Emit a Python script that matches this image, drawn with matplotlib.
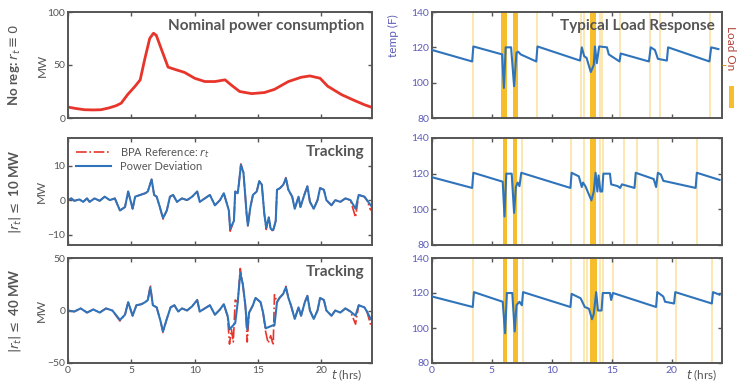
import matplotlib.pyplot as plt
from matplotlib.patches import Rectangle

# nominal power consumption (hrs, MW)
nominal_t = [0, 0.6, 1.3, 2.0, 2.6, 3.2, 3.8, 4.2, 4.7, 5.3, 5.7, 6.05, 6.45, 6.75, 6.97,
             7.4, 7.9, 8.4, 9.2, 10.0, 10.8, 11.6, 12.4, 12.9, 13.55, 14.5, 15.5, 16.3,
             17.4, 18.4, 19.1, 19.9, 20.5, 21.6, 22.6, 23.4, 24.0]
nominal_mw = [10.3, 9.0, 7.8, 7.6, 7.8, 9.4, 11.6, 14, 22, 30, 36, 55, 75, 80, 78,
              64, 48, 46, 43, 37.5, 34.4, 34.4, 36, 31, 25, 23, 24, 27,
              34.4, 38.4, 39.7, 37.5, 30, 22, 16.6, 12.5, 10.0]

# tracking, |r_t| <= 10 MW
track10_t = [0, 0.26, 0.5, 0.9, 1.2, 1.5, 1.7, 2.1, 2.5, 2.9, 3.3, 3.7, 4.1, 4.5, 4.75,
             5.1, 5.3, 5.7, 6.1, 6.3, 6.6, 6.8, 7.0, 7.25, 7.5, 7.8, 8.05, 8.3, 8.6, 9.0,
             9.4, 9.8, 10.2, 10.4, 10.8, 11.2, 11.6, 12.0, 12.3, 12.7, 12.8, 13.1, 13.2,
             13.4, 13.5, 13.65, 13.85, 14.0, 14.1, 14.2, 14.4, 14.6, 14.9, 15.1, 15.3,
             15.5, 15.65, 15.85, 16.0, 16.2, 16.4, 16.5, 16.75, 17.0, 17.2, 17.4, 17.7,
             17.9, 18.2, 18.35, 18.7, 18.9, 19.1, 19.4, 19.7, 19.9, 20.2, 20.4, 20.8,
             21.1, 21.5, 21.9, 22.3, 22.7, 22.95, 23.4, 23.6, 23.9]
bpa10 = [0, 0.5, -0.2, 0.2, -0.5, 0.5, -0.5, 0.5, -0.2, 1, 0, 0.5, -3, -2, 2.5,
         -2.5, 1, 1.5, 2, 2.5, 6, 1.5, 1, -2, -5.5, -3, 1, 1.5, -0.5, 0.5,
         0, 1, 2.5, -0.5, 0.5, 1.5, -1.5, 0, 2, -3, -9, -6, 2.5,
         2, 5, 10.5, 8, 1, -4, -7.5, -2, 1.5, 2.5, 5.5, 4.5,
         -4, -8.5, -5, -8.5, -9, -6, 3, 3.5, 4.5, 6.5, 3, 1,
         -2.5, 1, -2, 2, 4, -0.5, -2.5, 0, 3.5, 3, 0, -1.5,
         0, -0.5, 0.5, 0, -5, 1.5, 1, 0, -3]
dev10 = [0, 0.5, -0.2, 0.2, -0.5, 0.5, -0.5, 0.5, -0.2, 1, 0, 0.5, -3, -2, 2.5,
         -2.5, 1, 1.5, 2, 2.5, 6, 1.5, 1, -2, -5.2, -3, 1, 1.5, -0.5, 0.5,
         0, 1, 2.5, -0.5, 0.5, 1.5, -1.5, 0, 2, -3, -8.3, -6, 2.5,
         2, 5, 10.2, 8, 1, -4, -7.3, -2, 1.5, 2.5, 5.5, 4.5,
         -4, -8, -5, -8.3, -8.7, -6, 3, 3.5, 4.5, 6.3, 3, 1,
         -2.5, 1, -2, 2, 4, -0.5, -2.5, 0, 3.5, 3, 0, -1.5,
         0, -0.5, 0.5, 0, -2.5, 1.5, 1, 0, -1.5]

# tracking, |r_t| <= 40 MW
track40_t = [0, 0.5, 1.0, 1.5, 2.0, 2.5, 3.0, 3.5, 4.1, 4.5, 4.75, 5.1, 5.4, 5.8, 6.1,
             6.3, 6.5, 6.7, 7.0, 7.3, 7.5, 7.8, 8.1, 8.4, 8.7, 9.0, 9.4, 9.8, 10.2,
             10.4, 10.8, 11.2, 11.6, 12.0, 12.3, 12.6, 12.75, 12.9, 13.05, 13.2, 13.4,
             13.6, 13.8, 14.0, 14.15, 14.3, 14.6, 14.8, 15.0, 15.2, 15.4, 15.6, 15.8,
             16.0, 16.2, 16.3, 16.5, 16.7, 17.0, 17.2, 17.4, 17.6, 17.9, 18.2, 18.4,
             18.7, 18.9, 19.1, 19.4, 19.7, 19.9, 20.2, 20.4, 20.8, 21.1, 21.5, 21.9,
             22.3, 22.7, 22.95, 23.4, 23.6, 23.9]
bpa40 = [0, -1, 2, -2, 1, -2, 2, 0, -10, -4, 8, -5, 5, 6, 8,
         10, 24, 5, 3, -10, -21, -8, 3, 5, -1, 2, 0, 4, 10,
         -1, 2, 5, -4, 1, 6, -6, -32, -18, -30, 10, 8,
         40, 25, 5, -30, -2, 5, 12, 10, 8, -2, -20, -31,
         -24, -33, 15, 8, 12, 16, 23, 12, 5, -8, 3, -5,
         8, 14, 0, -8, 0, 12, 10, 0, -5, 0, -2, 2,
         -1, -13, 5, 3, -1, -14]
dev40 = [0, -1, 2, -2, 1, -2, 2, 0, -9, -4, 8, -5, 5, 6, 8,
         10, 22, 5, 3, -10, -20, -8, 3, 5, -1, 2, 0, 4, 10,
         -1, 2, 5, -4, 1, 6, -5, -18, -16, -14, -12, 8,
         36, 25, 5, -18, -2, 5, 12, 10, 8, -2, -17, -16,
         -15, -14, -14, 8, 12, 16, 22, 12, 5, -8, 3, -5,
         8, 14, 0, -8, 0, 12, 10, 0, -5, 0, -2, 2,
         -1, -5, 5, 3, -1, -8]

# typical load response: temperature (hrs, F)
temp1_t = [0, 3.35, 3.45, 5.85, 6.0, 6.15, 6.6, 6.85, 7.05, 7.2, 7.4, 8.7, 8.8, 12.35,
           12.5, 12.7, 12.9, 13.25, 13.5, 13.6, 13.75, 13.95, 14.6, 14.75, 15.65, 15.75,
           18.1, 18.25, 18.6, 18.85, 19.6, 19.7, 23.15, 23.3, 23.9]
temp1 = [118.5, 112, 120.5, 116, 97, 120, 120, 98, 117, 117.5, 116, 112, 120.5, 112.5,
         120, 115, 114, 106, 110, 120.5, 111, 120.5, 120, 116, 112, 116.5,
         112, 120, 118.5, 113.5, 112.5, 120, 112, 120, 119]
temp2_t = [0, 3.35, 3.45, 5.9, 6.05, 6.2, 6.65, 6.85, 7.0, 7.15, 7.3, 7.45, 11.55, 11.65,
           12.25, 12.5, 12.6, 12.8, 13.3, 13.5, 13.65, 13.8, 13.9, 14.05, 14.2, 14.3,
           14.85, 14.95, 15.5, 15.7, 15.85, 16.9, 17.0, 18.5, 18.7, 18.85, 19.1, 19.3,
           22.0, 22.1, 24.0]
temp2 = [118, 112, 120.5, 115.5, 96, 120, 120, 98, 112.5, 115, 113, 120.5, 112, 120.5,
         118.5, 112.5, 115, 113, 105, 110, 120.5, 110, 119, 110, 110, 120,
         120, 114, 113, 112, 114, 112, 120.5, 117, 112.5, 120.5, 119.5, 116,
         112, 120.5, 116.5]
temp3_t = [0, 3.4, 3.5, 5.9, 6.1, 6.25, 6.7, 6.9, 7.05, 7.3, 7.5, 7.6, 11.55, 11.65,
           12.4, 12.75, 13.1, 13.35, 13.5, 13.7, 13.85, 14.15, 14.25, 14.85, 14.95, 15.1,
           18.7, 18.8, 19.3, 19.45, 20.2, 20.3, 23.35, 23.45, 24.0]
temp3 = [118, 112, 120.5, 115, 97, 120, 120, 98, 113, 115, 113, 120.5, 112, 119.5,
         117, 112, 111, 105, 108, 120.5, 110, 110, 120, 120, 116, 120,
         112, 120.5, 118, 115, 114, 120.5, 114, 120.5, 119]

# load on: wide spans and single switch-ons (hrs)
load1_spans = [(5.75, 6.25), (6.75, 7.15), (13.2, 13.7)]
load1_lines = [3.4, 8.75, 12.4, 12.7, 14.0, 14.2, 15.7, 18.2, 19.0, 23.2]
load2_spans = [(5.9, 6.25), (6.75, 7.1), (13.2, 13.7)]
load2_lines = [3.4, 7.5, 11.6, 12.7, 14.0, 14.25, 16.0, 17.1, 18.9, 22.1]
load3_spans = [(5.9, 6.3), (6.8, 7.2), (13.2, 13.75)]
load3_lines = [3.45, 7.6, 11.6, 12.7, 12.9, 14.0, 14.3, 15.1, 18.75, 20.4, 23.4]

hour_ticks = [0, 5, 10, 15, 20]

GRAY = "#555555"
RED = "#e8352b"
BLUE = "#2f74bb"
PURPLE = "#5c5cb8"
LOAD_DARK = "#f6be2c"
LOAD_LIGHT = "#fbe3a3"
FONT = "Lato"


def style_axes(ax, tick_color=GRAY):
    for spine in ax.spines.values():
        spine.set_color(GRAY)
        spine.set_linewidth(1.4)
    ax.tick_params(direction="in", top=True, right=True, length=3, width=1,
                   color=GRAY, labelsize=7.5, labelcolor=tick_color, pad=2)
    ax.set_xticks(hour_ticks)
    ax.set_xticklabels([])
    for lab in ax.get_yticklabels():
        lab.set_family(FONT)


def corner_title(ax, text):
    ax.text(0.975, 0.93, text, transform=ax.transAxes, ha="right", va="top",
            fontsize=11, fontweight="bold", color=GRAY, family=FONT)


def hours_axis(ax, label_x):
    ax.set_xticklabels([str(t) for t in hour_ticks], family=FONT)
    ax.text(label_x, -0.115, "$t$ (hrs)", transform=ax.transAxes, ha="center", va="center",
            fontsize=8.5, color=GRAY, family=FONT)


def load_panel(ax, t, temp, spans, lines):
    for x in lines:
        ax.axvline(x, color=LOAD_LIGHT, lw=1.2, zorder=1)
    for a, b in spans:
        ax.axvspan(a, b, color=LOAD_DARK, lw=0, zorder=1)
    ax.plot(t, temp, color=BLUE, lw=1.5, zorder=3)
    ax.set_xlim(0, 24.2)
    ax.set_ylim(80, 140)
    ax.set_yticks([80, 100, 120, 140])
    style_axes(ax, tick_color=PURPLE)


fig = plt.figure(figsize=(7.38, 3.86), dpi=100)
lx, lw = 68 / 738, 304 / 738
rx, rw = 432 / 738, 290 / 738
rows = [((386 - 118) / 386, 106 / 386), ((386 - 245) / 386, 107 / 386),
        ((386 - 363) / 386, 105 / 386)]

ax1 = fig.add_axes([lx, rows[0][0], lw, rows[0][1]])
ax2 = fig.add_axes([lx, rows[1][0], lw, rows[1][1]])
ax3 = fig.add_axes([lx, rows[2][0], lw, rows[2][1]])
ar1 = fig.add_axes([rx, rows[0][0], rw, rows[0][1]])
ar2 = fig.add_axes([rx, rows[1][0], rw, rows[1][1]])
ar3 = fig.add_axes([rx, rows[2][0], rw, rows[2][1]])

# left column
ax1.plot(nominal_t, nominal_mw, color=RED, lw=2)
ax1.set_xlim(0, 24)
ax1.set_ylim(0, 100)
ax1.set_yticks([0, 50, 100])
style_axes(ax1)
corner_title(ax1, "Nominal power consumption")

ax2.plot(track10_t, bpa10, color=RED, lw=1.2, ls="-.", label="BPA Reference: $r_t$")
ax2.plot(track10_t, dev10, color=BLUE, lw=1.5, label="Power Deviation")
ax2.set_xlim(0, 24)
ax2.set_ylim(-13, 18)
ax2.set_yticks([-10, 0, 10])
style_axes(ax2)
corner_title(ax2, "Tracking")
leg = ax2.legend(loc="upper left", frameon=False, handlelength=3.2,
                 borderaxespad=0.3, labelspacing=0.15, prop={"family": FONT, "size": 8})
for txt in leg.get_texts():
    txt.set_color(GRAY)

ax3.plot(track40_t, bpa40, color=RED, lw=1.2, ls="-.")
ax3.plot(track40_t, dev40, color=BLUE, lw=1.5)
ax3.set_xlim(0, 24)
ax3.set_ylim(-50, 50)
ax3.set_yticks([-50, 0, 50])
style_axes(ax3)
corner_title(ax3, "Tracking")
hours_axis(ax3, 0.915)

for ax in (ax1, ax2, ax3):
    ax.set_ylabel("MW", fontsize=8.5, color=GRAY, family=FONT, labelpad=0)

fig.text(0.02, rows[0][0] + rows[0][1] / 2, r"No reg: $r_t \equiv 0$", rotation=90,
         ha="center", va="center", fontsize=9.5, fontweight="bold", color=GRAY, family=FONT)
fig.text(0.02, rows[1][0] + rows[1][1] / 2, r"$|r_t| \leq$ 10 MW", rotation=90,
         ha="center", va="center", fontsize=9.5, fontweight="bold", color=GRAY, family=FONT)
fig.text(0.02, rows[2][0] + rows[2][1] / 2, r"$|r_t| \leq$ 40 MW", rotation=90,
         ha="center", va="center", fontsize=9.5, fontweight="bold", color=GRAY, family=FONT)

# right column
load_panel(ar1, temp1_t, temp1, load1_spans, load1_lines)
load_panel(ar2, temp2_t, temp2, load2_spans, load2_lines)
load_panel(ar3, temp3_t, temp3, load3_spans, load3_lines)
corner_title(ar1, "Typical Load Response")
hours_axis(ar3, 0.93)
ar1.set_ylabel("temp (F)", fontsize=8.5, color=PURPLE, family=FONT, labelpad=1)
ar1.yaxis.set_label_coords(-0.115, 0.78)

twin = ar1.twinx()
twin.set_ylim(0, 1)
twin.set_yticks([0.5])
twin.set_yticklabels([])
twin.tick_params(axis="y", direction="out", length=3, color="#e0a030")
for spine in twin.spines.values():
    spine.set_visible(False)
twin.set_ylabel("Load On", fontsize=8.5, color="#b0443a", family=FONT, rotation=270,
                labelpad=9)
twin.yaxis.set_label_coords(1.05, 0.66)
fig.patches.append(Rectangle((729 / 738, (386 - 108) / 386), 5 / 738, 22 / 386,
                             transform=fig.transFigure, color=LOAD_DARK, lw=0))

fig.savefig("out.png", dpi=100)
